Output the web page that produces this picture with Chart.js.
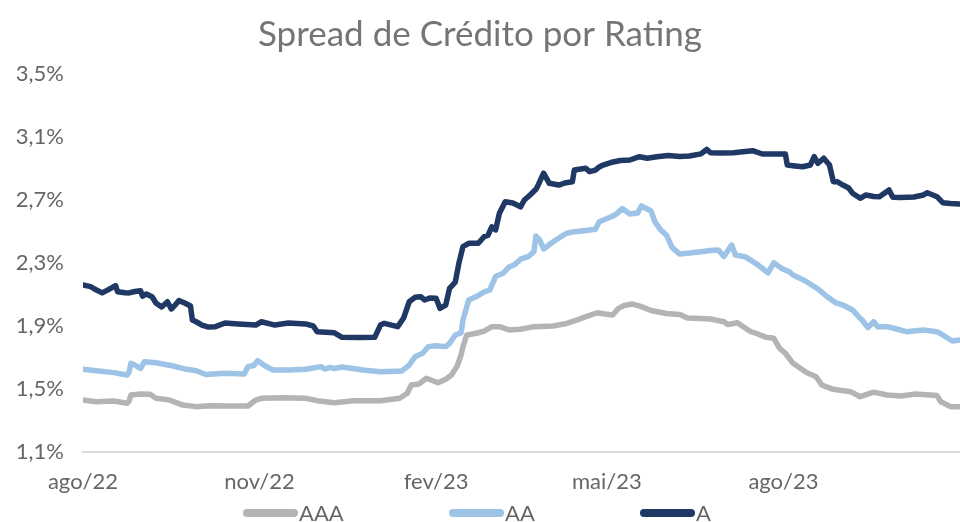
<!DOCTYPE html>
<html><head><meta charset="utf-8">
<script src="https://cdn.jsdelivr.net/npm/chart.js@4.4.0/dist/chart.umd.min.js"></script>
<style>html,body{margin:0;padding:0;background:#fff}#wrap{width:960px;height:522px}</style>
</head><body><div id="wrap"><canvas id="c" width="960" height="522"></canvas></div>
<script>
// x values: days since 01/08/2022
const tickDays = [0, 92, 184, 273, 365];
const tickLabels = ['ago/22', 'nov/22', 'fev/23', 'mai/23', 'ago/23'];
const yTicks = [1.1, 1.5, 1.9, 2.3, 2.7, 3.1, 3.5];
const seriesNames = ['AAA', 'AA', 'A'];

const daysAAA = [0,7,16,23,24,25,30,35,38,45,52,59,66,76,86,90,93,104,116,122,131,141,155,165,169,171,175,179,182,185,189,192,195,197,198,200,205,209,213,217,222,228,235,245,252,256,261,268,272,276,279,282,286,291,296,304,311,315,322,327,334,336,341,348,350,356,360,363,366,370,377,382,385,391,400,405,412,419,426,434,445,447,452,457];
const valsAAA = [1.430,1.419,1.424,1.409,1.424,1.462,1.468,1.466,1.441,1.430,1.398,1.388,1.394,1.392,1.392,1.430,1.441,1.445,1.441,1.426,1.413,1.426,1.426,1.441,1.473,1.525,1.532,1.568,1.554,1.540,1.562,1.589,1.646,1.716,1.769,1.843,1.854,1.868,1.896,1.896,1.875,1.879,1.896,1.900,1.916,1.932,1.955,1.984,1.976,1.970,2.012,2.030,2.040,2.023,1.998,1.979,1.973,1.951,1.948,1.944,1.927,1.910,1.921,1.864,1.857,1.828,1.822,1.758,1.727,1.663,1.605,1.578,1.525,1.498,1.483,1.451,1.480,1.462,1.456,1.468,1.459,1.419,1.388,1.388];

const daysAA = [0,7,16,23,24,25,27,30,32,38,47,54,59,64,74,84,86,89,91,95,99,108,116,124,126,129,131,135,146,155,166,170,173,177,180,184,189,191,194,197,198,201,205,209,212,215,219,222,225,228,232,235,236,238,240,245,249,252,256,262,267,269,275,278,281,285,289,291,296,298,301,304,307,311,316,322,327,331,334,338,340,345,351,357,360,364,368,370,376,383,387,392,396,401,405,406,409,412,414,419,423,429,438,445,448,453,457];
const valsAA = [1.625,1.616,1.604,1.589,1.608,1.663,1.652,1.631,1.673,1.667,1.646,1.625,1.616,1.592,1.600,1.595,1.642,1.649,1.680,1.646,1.621,1.621,1.625,1.642,1.627,1.637,1.630,1.640,1.621,1.610,1.614,1.652,1.705,1.727,1.769,1.775,1.769,1.790,1.843,1.856,1.938,2.065,2.087,2.116,2.129,2.214,2.235,2.275,2.290,2.324,2.340,2.372,2.471,2.446,2.389,2.435,2.467,2.489,2.499,2.506,2.514,2.562,2.592,2.611,2.646,2.611,2.617,2.662,2.630,2.562,2.510,2.478,2.398,2.357,2.363,2.372,2.379,2.383,2.341,2.414,2.351,2.340,2.294,2.238,2.302,2.266,2.245,2.224,2.189,2.135,2.094,2.049,2.033,2.002,1.949,1.938,1.890,1.927,1.896,1.896,1.884,1.864,1.875,1.864,1.843,1.805,1.811];

const daysA = [0,4,6,10,13,17,18,22,24,27,30,31,33,36,38,41,44,46,48,50,53,56,57,59,62,65,69,74,81,90,93,100,107,116,120,122,131,135,144,152,155,157,164,167,170,173,176,178,181,184,186,189,191,194,196,198,201,206,209,211,213,215,217,220,224,228,230,233,236,237,240,243,248,251,255,256,262,264,267,269,271,275,280,285,290,294,299,305,311,316,322,325,327,332,339,345,349,354,359,366,367,371,375,379,381,383,386,389,391,393,396,399,401,405,408,412,415,420,422,426,433,438,440,445,448,452,457];
const valsA = [2.160,2.150,2.135,2.110,2.129,2.156,2.118,2.111,2.110,2.119,2.124,2.090,2.103,2.086,2.046,2.021,2.054,2.008,2.033,2.061,2.046,2.027,1.938,1.927,1.906,1.894,1.896,1.919,1.913,1.906,1.927,1.906,1.919,1.913,1.900,1.864,1.857,1.828,1.827,1.828,1.906,1.917,1.896,1.949,2.054,2.082,2.086,2.065,2.078,2.076,2.012,2.033,2.139,2.179,2.306,2.404,2.425,2.425,2.467,2.475,2.530,2.510,2.616,2.689,2.681,2.657,2.700,2.732,2.768,2.789,2.870,2.806,2.795,2.808,2.816,2.890,2.901,2.880,2.890,2.910,2.922,2.938,2.951,2.954,2.975,2.965,2.975,2.983,2.976,2.979,2.993,3.021,3.000,2.998,3.000,3.008,3.013,2.992,2.992,2.992,2.922,2.916,2.911,2.922,2.976,2.933,2.965,2.922,2.816,2.816,2.795,2.776,2.743,2.711,2.732,2.722,2.721,2.764,2.717,2.716,2.719,2.732,2.746,2.721,2.683,2.678,2.675];

const colors = ['#B4B4B7', '#9DC3E6', '#1F3864'];
const FONT = 'Lato, "Open Sans", sans-serif';

function pts(days, vals) {
  const n = Math.min(days.length, vals.length);
  const out = [];
  for (let i = 0; i < n; i++) out.push({x: days[i], y: vals[i]});
  return out;
}

const legendPos = [243, 449, 640];
const customLegend = {
  id: 'customLegend',
  afterDraw(chart) {
    const ctx = chart.ctx;
    ctx.save();
    chart.data.datasets.forEach((ds, i) => {
      const x0 = legendPos[i], y = 513;
      ctx.strokeStyle = ds.borderColor;
      ctx.lineWidth = 8;
      ctx.lineCap = 'round';
      ctx.beginPath();
      ctx.moveTo(x0 + 4, y);
      ctx.lineTo(x0 + 51, y);
      ctx.stroke();
      ctx.fillStyle = '#666666';
      ctx.font = '22px ' + FONT;
      ctx.textBaseline = 'middle';
      ctx.textAlign = 'left';
      ctx.fillText(ds.label, x0 + 56, y + 1);
    });
    ctx.restore();
  }
};

const datasets = [
  {label: seriesNames[0], data: pts(daysAAA, valsAAA), borderColor: colors[0], backgroundColor: colors[0], order: 3},
  {label: seriesNames[1], data: pts(daysAA, valsAA), borderColor: colors[1], backgroundColor: colors[1], order: 2},
  {label: seriesNames[2], data: pts(daysA, valsA), borderColor: colors[2], backgroundColor: colors[2], order: 1}
].map(d => Object.assign(d, {borderWidth: 5.5, pointRadius: 0, tension: 0, borderJoinStyle: 'round', borderCapStyle: 'round', fill: false}));

new Chart(document.getElementById('c'), {
  type: 'line',
  data: {datasets},
  options: {
    responsive: false,
    animation: false,
    layout: {padding: {left: 0, right: 0, top: 0, bottom: 27}},
    plugins: {
      legend: {display: false},
      tooltip: {enabled: false},
      title: {
        display: true,
        text: 'Spread de Crédito por Rating',
        color: '#757575',
        font: {family: FONT, size: 35, weight: 'normal'},
        padding: {top: 14, bottom: 18}
      }
    },
    scales: {
      x: {
        type: 'linear', min: 0, max: 457,
        afterBuildTicks: s => { s.ticks = tickDays.map(v => ({value: v})); },
        afterFit: s => { s.height = 43; },
        ticks: {
          autoSkip: false, maxRotation: 0, padding: 17,
          color: '#666666', font: {family: FONT, size: 22},
          callback: (v, i) => tickLabels[i]
        },
        grid: {display: false, drawTicks: false},
        border: {display: true, color: '#D9D9D9', width: 2}
      },
      y: {
        min: 1.1, max: 3.5,
        afterBuildTicks: s => { s.ticks = yTicks.map(v => ({value: v})); },
        afterFit: s => { s.width = 83; },
        ticks: {
          padding: 19, color: '#666666', font: {family: FONT, size: 22},
          callback: v => Number(v).toFixed(1).replace('.', ',') + '%'
        },
        grid: {display: false, drawTicks: false},
        border: {display: false}
      }
    }
  },
  plugins: [customLegend]
});
</script>
</body></html>
